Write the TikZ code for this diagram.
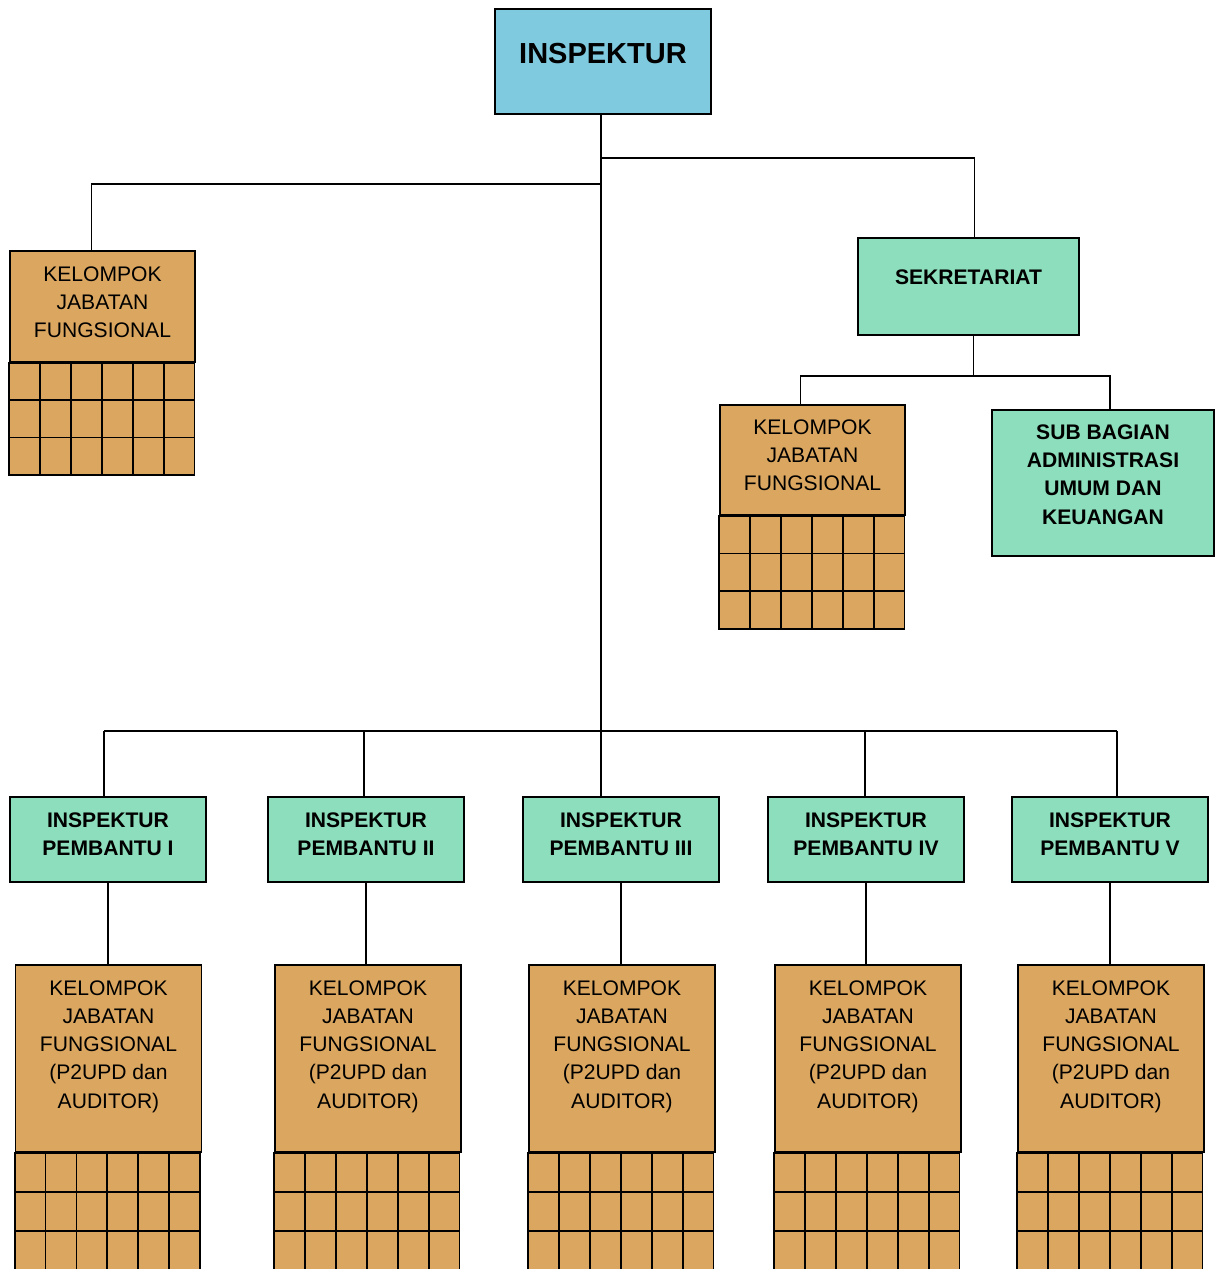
\documentclass[tikz,border=0pt]{standalone}
\usepackage{fontspec}
\setmainfont{Liberation Sans}
\usetikzlibrary{calc}
\definecolor{biru}{RGB}{128,202,224}
\definecolor{hijau}{RGB}{140,222,188}
\definecolor{oranye}{RGB}{218,166,96}
% grid of 3 x 6 cells under a box
\newcommand{\petak}[2]{%
  \begin{scope}[shift={(#1.south west)}]
    \foreach \r in {0,1,2}
      \foreach \c in {0,...,5}
        \draw[fill=oranye] (\c*30.9,\r*#2) rectangle ++(30.9,#2);
  \end{scope}}
\begin{document}
\begin{tikzpicture}
  [x=0.02cm,y=-0.02cm,line width=1pt,
   every node/.style={draw,align=center,inner sep=1pt,font=\fontsize{12}{16}\selectfont}]
  \tikzstyle{kepala} = [fill=biru,font=\fontsize{16.5}{20}\selectfont\bfseries]
  \tikzstyle{staf} = [fill=hijau,font=\fontsize{12}{16}\selectfont\bfseries]
  \tikzstyle{fungsi} = [fill=oranye]
  \tikzstyle{pembantu} = [staf,minimum width=3.92cm,minimum height=1.7cm,text depth=0.2cm]
  \tikzstyle{kjfbawah} = [fungsi,minimum width=3.72cm,minimum height=3.74cm]
  \clip (0,0) rectangle (1219,1269);
  \fill[white] (0,0) rectangle (1219,1269);

  \node[kepala,minimum width=4.32cm,minimum height=2.1cm,text depth=0.32cm] (insp) at (603,61.5) {INSPEKTUR};
  \node[fungsi,minimum width=3.7cm,minimum height=2.22cm,text depth=0.16cm] (kjf0) at (102.5,306.5) {KELOMPOK\\JABATAN\\FUNGSIONAL};
  \node[staf,minimum width=4.42cm,minimum height=1.94cm,text depth=0.36cm] (sekr) at (968.5,286.5) {SEKRETARIAT};
  \node[fungsi,minimum width=3.7cm,minimum height=2.2cm,text depth=0.2cm] (kjfs) at (812.5,460) {KELOMPOK\\JABATAN\\FUNGSIONAL};
  \node[staf,minimum width=4.44cm,minimum height=2.92cm,text depth=0.34cm] (subbag) at (1103,483) {SUB BAGIAN\\ADMINISTRASI\\UMUM DAN\\KEUANGAN};

  \node[pembantu] (ip1) at (108,839.5)  {INSPEKTUR\\PEMBANTU I};
  \node[pembantu] (ip2) at (366,839.5)  {INSPEKTUR\\PEMBANTU II};
  \node[pembantu] (ip3) at (621,839.5)  {INSPEKTUR\\PEMBANTU III};
  \node[pembantu] (ip4) at (866,839.5)  {INSPEKTUR\\PEMBANTU IV};
  \node[pembantu] (ip5) at (1110,839.5) {INSPEKTUR\\PEMBANTU V};

  \foreach \n/\x in {1/108.5,2/368,3/622,4/868,5/1111}
    \node[kjfbawah] (kjf\n) at (\x,1058.5) {KELOMPOK\\JABATAN\\FUNGSIONAL\\(P2UPD dan\\AUDITOR)\\\mbox{}};

  \petak{kjf0}{37.3}
  \petak{kjfs}{37.7}
  \foreach \n in {1,...,5} {\petak{kjf\n}{39}}

  \coordinate (bus) at (601,731);
  \draw ($(insp.south)+(-2,0)$) -- ($(insp.south |- ip3.north)+(-2,0)$);
  \draw ($(insp.south)+(-2,69)$) -| ($(kjf0.north)+(-11,0)$);
  \draw ($(insp.south)+(-2,43)$) -| ($(sekr.north)+(6,0)$);
  \draw ($(sekr.south)+(5,0)$) -- ++(0,40) coordinate (sbus);
  \draw (sbus) -| ($(kjfs.north)+(-12,0)$);
  \draw (sbus) -| ($(subbag.north)+(7,0)$);
  \draw ($(ip1.north |- bus)+(-4,0)$) -- ($(ip5.north |- bus)+(7,0)$);
  \foreach \ip/\dx in {ip1/-4,ip2/-2,ip4/-1,ip5/7}
    \draw ($(\ip.north |- bus)+(\dx,0)$) -- ($(\ip.north)+(\dx,0)$);
  \foreach \ip/\kjf in {ip1/kjf1,ip2/kjf2,ip3/kjf3,ip4/kjf4,ip5/kjf5}
    \draw (\ip.south) -- (\ip.south |- \kjf.north);
\end{tikzpicture}
\end{document}
